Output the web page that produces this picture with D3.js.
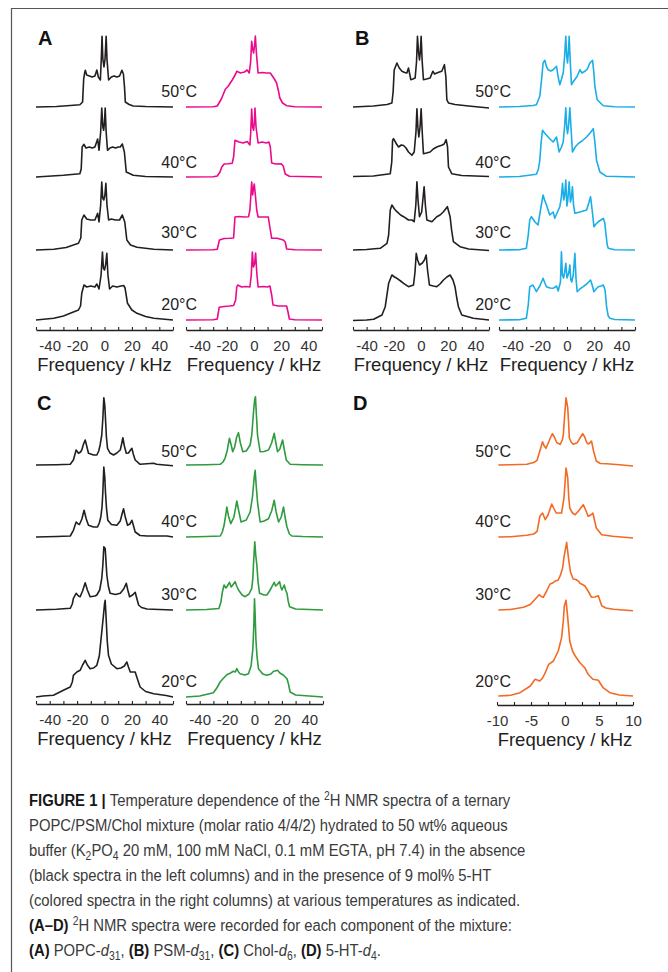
<!DOCTYPE html>
<html>
<head>
<meta charset="utf-8">
<script src="https://cdn.jsdelivr.net/npm/d3@7"></script>
<style>
  body { margin: 0; background: #fff; }
  svg { display: block; font-family: "Liberation Sans", Arial, sans-serif; }
  .caption text { white-space: pre; }
</style>
</head>
<body>
<div id="figure"></div>
<script>
// temperatures, top row first
const temps = ['50°C', '40°C', '30°C', '20°C'];

const wideTicks = [-50, -40, -30, -20, -10, 0, 10, 20, 30, 40, 50];
const wideLabels = [-40, -20, 0, 20, 40];
const narrowTicks = [-10, -7.5, -5, -2.5, 0, 2.5, 5, 7.5, 10];
const narrowLabels = [-10, -5, 0, 5, 10];

// spectra: [kHz, intensity], one array per temperature (50, 40, 30, 20 °C)
const popcBlack = [
  [[-50,0],[-35,0.5],[-25,1.5],[-18,2.3],[-16,5],[-15.2,28],[-14.5,34],[-14,36.7],[-13,32],[-11,31],[-9,30],[-7,31],[-5.6,37],[-4.5,30],[-3,27],[-2.3,50],[-1.8,70.7],[-1.2,48],[-0.4,40],[0.4,48],[1.2,70.7],[1.8,48],[3,27],[5,30],[7,31],[9,30],[11,31],[12.7,36.7],[13.8,33],[14.6,20],[15.2,5],[18,2.5],[21,1],[30,0.5],[50,0]],
  [[-50,0],[-30,1.7],[-18,3.3],[-17,8],[-16.3,30],[-15,32.7],[-13.5,29],[-11,30],[-9,29],[-7,30],[-5,38],[-4,26.7],[-2.8,45],[-2,69],[-1.2,50],[-0.6,46.7],[0,55],[0.5,69],[1.2,45],[2.2,26.7],[4,29],[6,30],[8,29],[10,30],[11.5,30],[13,33],[14.5,25],[15.9,5],[21,1.7],[30,0.5],[50,0]],
  [[-50,0],[-37,0.7],[-28,2.5],[-19,6.7],[-17.3,12],[-16.6,30],[-15,35],[-13,31],[-10,30],[-7,30],[-5,36.7],[-4,28],[-2.8,45],[-2,68],[-1.3,52],[-0.5,50],[0.3,55],[1,66.7],[1.8,45],[3,30],[5,31],[8,30],[11,30],[13,35],[14.8,28],[16.3,10],[19,5],[23.7,2.7],[36,0.7],[50,0]],
  [[-50,0],[-37,1.7],[-30,4],[-25,6.7],[-19,10],[-17.5,14],[-16.6,26.7],[-15,35],[-13,33],[-10,34],[-7,33],[-5.6,36],[-4,31],[-2.5,45],[-1.5,68],[-0.8,52],[0,50],[0.8,55],[1.7,66.7],[2.5,45],[3.7,31],[6,34],[9,33],[12,34],[14,34.5],[15,32],[16.8,16.7],[20,10],[23.7,6.7],[30,3.5],[36,1.7],[50,0]]
];
const popcPink = [
  [[-50,0],[-30,0.3],[-27,1],[-24,8],[-21,18],[-19,20.7],[-16,27],[-13.5,33],[-12.7,35.7],[-10,34],[-7,35],[-5,37],[-3.5,34],[-2.5,45],[-1.7,65.7],[-1,58],[-0.3,54],[0.4,62],[1,71],[1.7,55],[3,34],[6,34.5],[9,34],[12,34],[13.5,31],[15,28],[16.6,24],[18,16],[19,9],[21,4],[24,1.3],[30,0.3],[50,0]],
  [[-50,0],[-30,0.3],[-27,1],[-25,5],[-23.7,10],[-22,13],[-19,13.3],[-16,13.8],[-15,20],[-14,36.7],[-11,35],[-8,34],[-5,35.5],[-3,32],[-2.4,45],[-1.7,68],[-1,50],[-0.3,46.7],[0.3,55],[0.7,69],[1.5,50],[3,34],[6,35],[9,34],[11,35],[12,30],[13,14],[16,13],[20,13.3],[21.5,11],[23,3],[26,0.7],[50,0]],
  [[-50,0],[-30,0.3],[-27,0.8],[-25.4,10],[-22,11.5],[-18,11.7],[-15,12],[-14,33],[-11,33.5],[-7,33],[-4,33.3],[-3,40],[-1.7,68],[-1,55],[-0.5,60],[0.2,66],[1,55],[2,40],[3,33],[6,33],[10.5,33],[12,20],[13,11.7],[17,11.7],[21.5,10],[23,8],[24,1],[30,0.3],[50,0]],
  [[-50,0],[-30,0.3],[-27,1],[-25.6,12.7],[-22,13.5],[-18,14],[-15,14.5],[-13.5,20],[-12.7,33],[-12,35],[-9,33],[-6,33.5],[-3,33],[-2,45],[-1.2,68],[-0.4,53],[0.4,56],[1.2,67],[2,48],[3,33],[7,33.5],[10,33],[11.7,34],[13,25],[14,15],[18,14],[22,14],[24,14],[25,8],[26,1],[30,0.3],[50,0]]
];
const psmBlack = [
  [[-50,0],[-35,1],[-25,2.5],[-21.4,4],[-20.5,15],[-19.7,37],[-17.7,44],[-16,39],[-14,35.7],[-12,34.5],[-10.4,34],[-9.2,39],[-7.5,27.3],[-6,28],[-4.3,29],[-3.3,45],[-2.6,70.7],[-1.8,55],[-1.1,47],[-0.5,55],[0.1,70.7],[0.9,45],[1.8,27.3],[4,28],[6.7,29],[8.7,35.7],[10,33],[11.6,34],[13.5,35],[15.3,35.7],[17.2,42.3],[18.3,30],[19,7.3],[20.2,4],[25,2.5],[35,1],[50,-1]],
  [[-50,0.5],[-35,1],[-22.6,3.3],[-21.5,15],[-20.9,36.7],[-20.2,38.3],[-18,33],[-16.5,30],[-14.5,32],[-12.8,31.5],[-11,29],[-9.2,25],[-6.7,21.7],[-5,25],[-3.7,45],[-3,68.3],[-2.3,50],[-1.6,40],[-0.7,50],[0.1,68.3],[0.9,45],[1.8,23.3],[4,24],[6.7,25],[9,28],[11.6,30],[13.5,31],[15.3,31.7],[17,33],[18.5,37.3],[19.5,30],[20.2,10],[22.6,3.3],[30,1.5],[50,0.5]],
  [[-50,0],[-40,0.5],[-30,1.7],[-25,6.7],[-23.8,15],[-22.6,40],[-21.4,45],[-19.5,41],[-17.7,38.3],[-15,35],[-12.8,33.3],[-9.2,30],[-6.7,30],[-5,28.3],[-3.8,45],[-3,68.3],[-2.2,50],[-1.1,33.3],[0.5,38],[1.5,52],[2.3,63.3],[3.2,45],[4.3,30],[8,28.3],[11.6,33.3],[14,35],[16.5,38.3],[19.4,43.3],[21.4,33.3],[22.5,20],[23.8,8.3],[28.7,3.3],[35,1],[50,-0.5]],
  [[-50,-0.5],[-40,0],[-34.8,0.7],[-28.7,5],[-26.3,13.3],[-23.8,36.7],[-21.4,45],[-19.5,43],[-17.7,41.7],[-15,39],[-12.8,36.7],[-9.2,33.3],[-5.5,35],[-4.4,48],[-3.5,66.7],[-2.5,60],[-1.1,55],[1,57],[2.5,60],[3.8,65],[4.8,50],[6.2,35],[9,34],[11.6,33.3],[14,36],[16.5,40],[19,43],[21.4,45],[23.5,40],[25,33.3],[26.3,22],[27.5,13.3],[30,5],[38.5,1.7],[50,0]]
];
const psmBlue = [
  [[-50,0],[-35,0.5],[-25,1.5],[-22.5,2.3],[-20,10.7],[-18.5,30],[-17.6,44],[-16.3,46.7],[-15,40],[-13.9,37.3],[-12,36],[-10.2,37.3],[-7.7,40.7],[-6.5,30],[-5.3,22.3],[-4,28],[-2.8,34],[-1.8,50],[-0.9,70.7],[-0.2,50],[0.4,44],[1,55],[1.6,70.7],[2.4,45],[3.3,22.3],[5,26],[7.5,30.7],[9.5,37.3],[11,34],[13.1,35.7],[15,38],[16.8,44],[18.8,46.7],[19.7,35],[20.5,20.7],[22.2,7.3],[26.7,1.3],[35,0.3],[50,0]],
  [[-50,0],[-35,0.5],[-22.5,2.7],[-21,8],[-20,16.7],[-19,35],[-18,46.7],[-16.5,44],[-15,41.7],[-12.5,38],[-10.2,35],[-7.7,40],[-5.8,25],[-4,30],[-2.8,35],[-1.8,50],[-0.9,69.3],[-0.2,50],[0.4,43.3],[1.2,52],[2.1,69.3],[3,48],[4,25],[6,30],[8.2,33.3],[11,36],[14.4,40],[17,44],[19.3,48.3],[20.5,35],[21.7,16.7],[24.2,5],[29,0.7],[50,0]],
  [[-50,0],[-35,0.3],[-29.9,1.7],[-28.5,15],[-27.4,30],[-26.2,33.3],[-25,31],[-23.7,28.3],[-21.3,25],[-19.5,40],[-17.6,55],[-16.5,50],[-15.1,45],[-12.7,35],[-10.2,38],[-9,31.7],[-7,38],[-5.3,43.3],[-4.2,52],[-3.3,66.7],[-2.4,50],[-1.7,55],[-0.9,70],[-0.1,44],[0.6,50],[1.6,68.3],[2.5,48],[3.2,52],[4,63.3],[4.8,45],[5.8,36.7],[9.5,38],[12,39],[14.4,40],[16,47],[17.3,53.3],[18.5,40],[19.8,23.3],[21.3,26],[23,28.3],[25,30],[26.7,31.7],[27.8,27],[28.6,16.7],[29.6,5],[30.3,1.7],[35,0.3],[50,0]],
  [[-50,0],[-35,0.3],[-29.9,1.7],[-28.5,15],[-27.4,33.3],[-25,35],[-23.5,31],[-22.5,28.3],[-20,34],[-17.6,41.7],[-16,36],[-15.1,33.3],[-12.5,32],[-10.2,31.7],[-7.7,34],[-6.5,29],[-4.8,38],[-4.1,68.3],[-3.4,45],[-2.5,42],[-1.7,48],[-0.9,56.7],[0,42],[0.8,45],[1.4,48],[2.1,55],[2.8,40],[3.5,38],[4.6,45],[5.8,66.7],[6.6,42],[7.5,28.3],[9.5,31],[11.9,33.3],[14.5,36],[17.3,40],[18.5,35],[19.8,28.3],[21.4,31],[23,33.3],[25,34],[26.7,35],[28,30],[29.1,13.3],[30.3,4],[31.6,1.7],[35,0.5],[50,0]]
];
const cholBlack = [
  [[-50,0],[-35,0.3],[-25,0.7],[-22.7,5],[-21.5,11],[-20.7,15],[-19,11.7],[-17.5,13],[-16.6,15],[-15.3,21],[-14.1,25],[-12.8,18],[-11.7,11.7],[-8,10],[-5.6,10],[-4.2,14],[-3.2,20],[-2,30],[-1.2,46.7],[-0.5,67.3],[0.2,60],[0.7,46.7],[1.4,28],[2.2,16.7],[4,12],[6.6,10],[9,12],[11.5,15],[12.5,21],[13.4,27.3],[14.5,19],[15.9,11.7],[17.5,12],[19,15],[20,16.7],[21,11],[22.4,5],[26,0.7],[35.9,1.7],[38,0.7],[50,-0.7]],
  [[-50,0],[-35,0.5],[-25,1],[-22.7,6.7],[-20.7,15],[-19.2,13],[-18.3,12.5],[-16.5,18],[-14.9,26.7],[-13.3,18],[-11.7,11.7],[-8,10],[-5.1,10],[-3.8,14],[-2.7,20],[-1.8,30],[-1.2,45],[-0.5,70],[0.2,60],[0.7,45],[1.5,28],[2.4,16.7],[5,12.5],[9,11.7],[11.5,16],[13,24],[13.9,28.3],[15,21],[16.8,11.7],[18.5,13],[20,16.7],[21.2,11],[22.4,5],[26,1.5],[31,1],[40,1],[45.6,1],[50,0]],
  [[-50,0],[-35,0.7],[-25,1.7],[-23.5,6],[-22.7,11.7],[-20.7,16.7],[-19,14],[-17.8,13.3],[-16,19],[-14.1,27.3],[-12.5,20],[-10.5,13.3],[-7,14],[-5.6,15],[-3.5,20],[-2,31.7],[-1.2,45],[-0.5,63.3],[0.5,61.6],[1.7,35],[2.8,24],[4.1,16.7],[8,15.5],[11.5,16.7],[14,21],[15.9,26.7],[17,20],[18.3,13.3],[20.5,15],[22.4,17.7],[23.5,12],[24.9,5],[27,2.5],[31,1],[40,0.5],[50,0]],
  [[-50,-1],[-45,0],[-37.3,0.7],[-30,5.7],[-25,9],[-23.5,14],[-22.7,20.7],[-20.2,24],[-17.8,25.7],[-16,31],[-14.1,35.7],[-12.5,31],[-10.5,27.3],[-8,28],[-5.6,30.7],[-3.8,40],[-2,64],[-0.8,80],[0,92],[0.5,95.7],[1.2,77.3],[2,55],[2.9,40.7],[5,32],[9,27.3],[12,28],[14.5,30],[16.3,34],[17.5,29],[18.8,24],[20.5,24],[22.4,24],[23.8,18],[26,9],[30,4.5],[35.9,2.3],[45,0.5],[50,-1]]
];
const cholGreen = [
  [[-50,0],[-35,0.3],[-25.1,0.7],[-23,3],[-21.5,6.7],[-20,14],[-18.3,26.7],[-17,20],[-15.9,13.3],[-14.5,18],[-13,28],[-11.7,32.3],[-10.3,22],[-8.5,13.3],[-6,14],[-3.2,20],[-2,30],[-0.7,53.3],[0.1,65],[0.7,68.3],[1.4,50],[2.2,30],[4.1,13.3],[7,13.5],[10.2,15],[12.5,22],[14.4,31.7],[15.6,22],[16.8,13.3],[18.5,16],[20.5,25],[21.8,15],[23.2,5],[26,0.7],[35,0.3],[50,0]],
  [[-50,0],[-35,0.5],[-25,1],[-23.5,5],[-22.2,11.7],[-21,22],[-20.2,30],[-19,21],[-17.3,13.3],[-15,20],[-12.9,36],[-11.5,26],[-9.8,15],[-6,17],[-3.2,25],[-1.5,40],[-0.2,60],[0.5,66.7],[1.2,52],[2.2,35],[4.1,15],[7,16],[10.2,18.3],[12.5,26],[14.4,36.7],[15.8,25],[17.6,15],[19.5,20],[21.2,30],[22.3,20],[23.7,10],[25.5,3],[27.3,1],[35,0.5],[50,0]],
  [[-50,0],[-35,0.5],[-26,1.5],[-24.5,8],[-23.4,18.3],[-22.2,25],[-20.8,22],[-19.8,24],[-18.3,27.7],[-17,23],[-15.9,25],[-14.1,28.3],[-13,24],[-11.7,20],[-9,15],[-6.8,13.3],[-4,16],[-2,21.7],[-1.2,32],[-0.7,46.7],[0.2,68.3],[0.9,55],[1.7,45],[2.6,28],[3.7,16.7],[7,15],[9,15],[11,19],[12.7,23.3],[14.4,27.7],[15.4,24],[16.3,25],[18.3,28.3],[19.2,23],[20,20],[21.7,25],[22.7,20],[23.7,16.7],[24.6,9],[25.6,3.3],[30,1],[50,0]],
  [[-50,-1],[-40,0],[-30,3.3],[-27.5,8],[-25.1,14],[-22.5,18],[-20.2,21.3],[-17.5,23],[-15.4,24.7],[-14,24],[-12.9,27.3],[-11.7,24],[-10.5,22.3],[-7,21],[-4.4,22.3],[-2.5,30],[-1.2,47.3],[-0.5,70],[0,97.3],[0.5,80],[1,57.3],[1.8,40],[2.9,27.3],[6,22],[9,20.7],[12,22],[13.9,24.7],[15,25],[16.8,25.7],[18.5,23],[21.2,20.7],[23.7,17.3],[24.8,12],[26,4],[30,1],[40,0],[50,-1]]
];
const htOrange = [
  [[-9.8,0],[-8,0.3],[-5.6,0.7],[-4.6,2.5],[-4.1,4.7],[-3.7,14],[-3.3,23.3],[-3.05,19],[-2.8,16.7],[-2.4,23],[-2.1,28],[-1.85,31.3],[-1.5,27],[-1.2,22.3],[-0.7,20.7],[-0.4,25],[-0.24,30.7],[-0.05,50],[0.15,67.3],[0.4,57.3],[0.55,40],[0.63,27.3],[0.9,23],[1.2,20.7],[1.8,22.3],[2.3,28],[2.6,31.3],[2.9,28],[3.2,22.3],[3.4,21],[3.65,22],[3.9,24],[4.2,14],[4.6,4],[5.2,1.5],[6.1,1.3],[8,0.3],[10,-1]],
  [[-9.8,0],[-8,0.3],[-5.6,1.7],[-4.6,3],[-4.1,5.7],[-3.7,20.7],[-3.3,24],[-2.9,17.3],[-2.5,22],[-1.95,33],[-1.6,28],[-1.3,24],[-0.5,24],[-0.15,39],[0.15,69],[0.4,59],[0.55,40],[0.7,29],[1.1,24],[1.5,22.3],[2.1,27],[2.7,32.3],[3.1,26],[3.4,20.7],[3.8,22],[4.1,24],[4.4,15],[4.6,9],[5.4,2.3],[7,0.7],[10,-1]],
  [[-9.8,0],[-8,0.5],[-6.1,2.7],[-5.1,5.5],[-4.6,9.3],[-4.1,13],[-3.8,15.3],[-3.5,13.5],[-3.2,12.7],[-2.7,19],[-2.2,26],[-1.8,27],[-1.5,28.7],[-1,30],[-0.7,34.3],[-0.35,42],[-0.15,52.7],[0.24,67.7],[0.5,52.7],[0.8,38],[1.2,31],[1.6,30.5],[2,28.7],[2.2,26.7],[2.9,24.3],[3.4,19],[3.9,12.7],[4.4,13],[4.9,14.3],[5.4,4.3],[6,2],[7.1,0.7],[10,-0.7]],
  [[-9.8,0],[-8,0.7],[-6.6,3.3],[-5.1,10],[-4.4,16.7],[-3.7,15],[-3.3,18],[-2.9,23.3],[-2.4,31.7],[-1.7,35],[-1,45],[-0.5,58.3],[-0.25,75],[-0.1,90],[0.15,95.7],[0.4,78.3],[0.7,55],[1.1,45],[1.5,40],[2.2,33.3],[2.9,28.3],[3.4,21.7],[4.1,16.7],[4.9,15.7],[5.6,8.3],[6.6,3.3],[8,1],[10,0]]
];

// caption, split in lines of [text, style]
const captionLines = [
  [['FIGURE 1 | ', 'b'], ['Temperature dependence of the ', ''], ['2', 'sup'], ['H NMR spectra of a ternary', '']],
  [['POPC/PSM/Chol mixture (molar ratio 4/4/2) hydrated to 50 wt% aqueous', '']],
  [['buffer (K', ''], ['2', 'sub'], ['PO', ''], ['4', 'sub'], [' 20 mM, 100 mM NaCl, 0.1 mM EGTA, pH 7.4) in the absence', '']],
  [['(black spectra in the left columns) and in the presence of 9 mol% 5-HT', '']],
  [['(colored spectra in the right columns) at various temperatures as indicated.', '']],
  [['(A–D)', 'b'], [' ', ''], ['2', 'sup'], ['H NMR spectra were recorded for each component of the mixture:', '']],
  [['(A)', 'b'], [' POPC-', ''], ['d', 'i'], ['31', 'sub'], [', ', ''], ['(B)', 'b'], [' PSM-', ''], ['d', 'i'], ['31', 'sub'], [', ', ''],
   ['(C)', 'b'], [' Chol-', ''], ['d', 'i'], ['6', 'sub'], [', ', ''], ['(D)', 'b'], [' 5-HT-', ''], ['d', 'i'], ['4', 'sub'], ['.', '']]
];

const width = 668;
const height = 972;

const colors = { black: '#231f20', pink: '#ec0a8c', blue: '#1aaee9', green: '#2e9b3e', orange: '#f26a24' };

const rowsTop = [107, 177, 250, 320];
const rowsBottom = [465, 537, 610, 696];
const labelsTop = [97, 168, 238, 310];
const labelsBottom = [457, 527, 600, 687];

const panels = [
  { letter: 'A', lx: 38, ly: 45, axisY: 330, rows: rowsTop, tl: labelsTop, tx: 197, ticks: wideTicks, marks: wideLabels,
    cols: [{ x0: 36, x1: 173, spectra: popcBlack, color: colors.black }, { x0: 186, x1: 322, spectra: popcPink, color: colors.pink }] },
  { letter: 'B', lx: 355, ly: 45, axisY: 330, rows: rowsTop, tl: labelsTop, tx: 511, ticks: wideTicks, marks: wideLabels,
    cols: [{ x0: 353, x1: 489, spectra: psmBlack, color: colors.black }, { x0: 499, x1: 635, spectra: psmBlue, color: colors.blue }] },
  { letter: 'C', lx: 37, ly: 410, axisY: 704, rows: rowsBottom, tl: labelsBottom, tx: 197, ticks: wideTicks, marks: wideLabels,
    cols: [{ x0: 36, x1: 173, spectra: cholBlack, color: colors.black }, { x0: 186, x1: 323, spectra: cholGreen, color: colors.green }] },
  { letter: 'D', lx: 353, ly: 410, axisY: 705, rows: rowsBottom, tl: labelsBottom, tx: 511, ticks: narrowTicks, marks: narrowLabels,
    cols: [{ x0: 497, x1: 633, spectra: htOrange, color: colors.orange }] }
];

const svg = d3.select('#figure')
              .append('svg')
              .attr('width', width)
              .attr('height', height);

// frame
svg.append('path')
   .attr('d', 'M11.5,' + height + 'V8.5H' + width)
   .attr('fill', 'none')
   .attr('stroke', '#555')
   .attr('stroke-width', 1.2);

const amp = d3.scaleLinear().domain([0, 100]).range([0, 100]);

panels.forEach((p) => {
  const g = svg.append('g');

  g.append('text')
   .attr('x', p.lx)
   .attr('y', p.ly)
   .attr('font-size', 20)
   .attr('font-weight', 'bold')
   .attr('fill', '#111')
   .text(p.letter);

  p.cols.forEach((col) => {
    const ext = d3.extent(p.ticks);
    const x = d3.scaleLinear().domain(ext).range([col.x0, col.x1]);

    col.spectra.forEach((spec, i) => {
      const line = d3.line()
                     .x((d) => x(d[0]))
                     .y((d) => p.rows[i] - amp(d[1]));
      g.append('path')
       .datum(spec)
       .attr('d', line)
       .attr('fill', 'none')
       .attr('stroke', col.color)
       .attr('stroke-width', 1.6)
       .attr('stroke-linejoin', 'round');
    });

    const axis = d3.axisBottom(x)
                   .tickValues(p.ticks)
                   .tickSizeInner(-3)
                   .tickSizeOuter(0)
                   .tickPadding(10)
                   .tickFormat((d) => p.marks.includes(d) ? String(d) : '');

    const ax = g.append('g')
                .attr('transform', 'translate(0,' + p.axisY + ')')
                .call(axis);
    ax.select('.domain').attr('stroke', '#222').attr('stroke-width', 1.3);
    ax.selectAll('.tick line').attr('stroke', '#222').attr('stroke-width', 1.1);
    ax.selectAll('.tick text')
      .attr('font-size', 15)
      .attr('font-family', '"Liberation Sans", Arial, sans-serif')
      .attr('fill', '#333');

    g.append('text')
     .attr('x', (col.x0 + col.x1) / 2)
     .attr('y', p.axisY + 41)
     .attr('text-anchor', 'middle')
     .attr('font-size', 18.5)
     .attr('fill', '#222')
     .text('Frequency / kHz');
  });

  temps.forEach((t, i) => {
    g.append('text')
     .attr('x', p.tx)
     .attr('y', p.tl[i])
     .attr('text-anchor', 'end')
     .attr('font-size', 16)
     .attr('fill', '#222')
     .text(t);
  });
});

// caption: condensed face, so the group is squeezed horizontally
const cap = svg.append('g')
               .attr('class', 'caption')
               .attr('fill', '#3a3a3a');

const capSize = 17;
const shifts = { sup: -6, sub: 4 };

const capTexts = captionLines.map((segs, i) => {
  const t = cap.append('text')
               .attr('x', 0)
               .attr('y', 806 + i * 25)
               .attr('font-size', capSize);
  let prev = 0;
  segs.forEach(([s, style]) => {
    const shift = shifts[style] || 0;
    const ts = t.append('tspan')
                .attr('dy', shift - prev)
                .text(s);
    prev = shift;
    if (style === 'b') ts.attr('font-weight', 'bold').attr('fill', '#161616');
    if (style === 'i') ts.attr('font-style', 'italic');
    if (style === 'sup' || style === 'sub') ts.attr('font-size', capSize * 0.7);
  });
  return t;
});

const w3 = capTexts[2].node().getComputedTextLength();
cap.attr('transform', 'translate(29,0) scale(' + (497 / w3) + ',1)');
</script>
</body>
</html>
